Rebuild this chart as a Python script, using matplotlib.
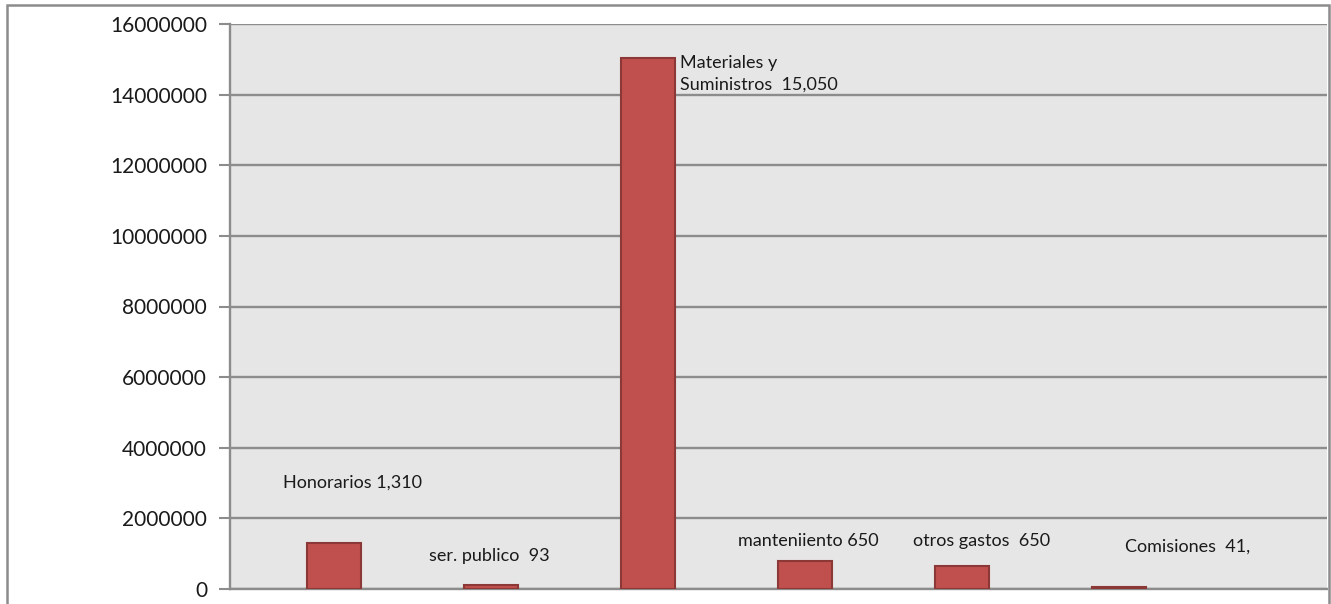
import numpy as np
from matplotlib import pyplot as plt
from matplotlib.patches import Rectangle

# data
categorias = ["Honorarios", "ser. publico", "Materiales y Suministros",
              "manteniiento", "otros gastos", "Comisiones"]
valores = [1310000, 120000, 15050000, 800000, 650000, 50000]
etiquetas = ["Honorarios 1,310", "ser. publico  93", "Materiales y\nSuministros  15,050",
             "manteniiento 650", "otros gastos  650", "Comisiones  41,"]
y_ticks = [0, 2000000, 4000000, 6000000, 8000000, 10000000, 12000000, 14000000, 16000000]

# label placement (x in bar units, y in data units)
lab_x = [-0.325, 0.605, 2.204, 2.573, 3.688, 5.038]
lab_y = [3020000, 930000, 14590000, 1357000, 1357000, 1187000]

plt.rcParams['font.family'] = ['Lato', 'DejaVu Sans']

fig = plt.figure(figsize=(13.31, 6.04), dpi=100)
fig.patches.append(Rectangle((7/1331, -0.1), 1322/1331, 1.1 - 5/604,
                             transform=fig.transFigure, fill=False,
                             edgecolor="#8c8c8c", linewidth=1.8))
ax = fig.add_axes([230/1331, 1 - 589/604, 1097/1331, 565/604])
ax.set_facecolor("#e6e6e6")

x = np.arange(len(categorias))
ax.bar(x, valores, width=0.344, color="#c0504d", edgecolor="#8c3836", linewidth=1.5, zorder=3)

for xi, yi, t in zip(lab_x, lab_y, etiquetas):
    ax.text(xi, yi, t, ha="left", va="center", fontsize=13, color="#1a1a1a",
            linespacing=1.4, zorder=4)

ax.set_xlim(-0.662, 6.325)
ax.set_ylim(0, 16000000)
ax.set_yticks(y_ticks)
ax.set_yticklabels([str(v) for v in y_ticks], fontsize=15, color="#1a1a1a")
ax.set_xticks([])
ax.tick_params(axis="y", length=8, width=1.5, color="#8c8c8c", pad=8.5)
ax.grid(True, axis="y", color="#8c8c8c", linewidth=1.7, zorder=1)
for s in ["top", "right"]:
    ax.spines[s].set_visible(False)
for s in ["left", "bottom"]:
    ax.spines[s].set_color("#8c8c8c")
    ax.spines[s].set_linewidth(1.7)

fig.savefig("out.png", dpi=100)
